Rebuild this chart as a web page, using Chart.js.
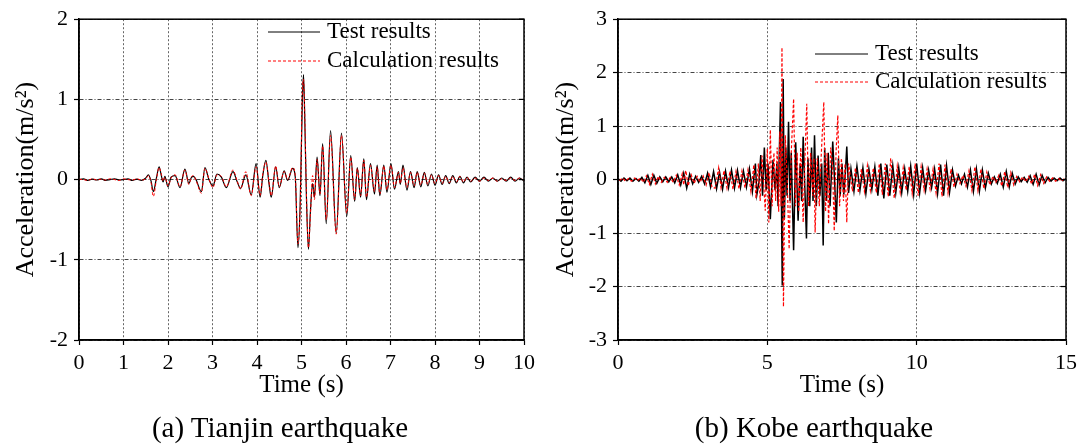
<!DOCTYPE html>
<html>
<head>
<meta charset="utf-8">
<script src="https://cdn.jsdelivr.net/npm/chart.js@4.4.1/dist/chart.umd.min.js"></script>
<style>
  body { margin: 0; background: #fff; width: 1082px; height: 446px; position: relative; overflow: hidden; }
  canvas { position: absolute; top: 0; }
  .cap { position: absolute; top: 412px; font-family: 'Liberation Serif', 'Times New Roman', serif; font-size: 29px; line-height: 30px; text-align: center; color: #000; }
</style>
</head>
<body>
<canvas id="tianjin" width="540" height="446" style="left:0"></canvas>
<canvas id="kobe" width="542" height="446" style="left:540px"></canvas>
<div class="cap" style="left:0;width:560px">(a) Tianjin earthquake</div>
<div class="cap" style="left:540px;width:548px">(b) Kobe earthquake</div>
<script>
// Tianjin record: time (s), test and calculated acceleration (m/s2)
const tianjinTime = [
  0, 0.1, 0.2, 0.3, 0.4, 0.5, 0.6, 0.7, 0.8, 0.9,
  1.0, 1.1, 1.2, 1.3, 1.4, 1.5, 1.56, 1.62, 1.67, 1.74,
  1.8, 1.85, 1.89, 1.93, 2.0, 2.07, 2.16, 2.27, 2.38, 2.47,
  2.52, 2.57, 2.63, 2.75, 2.83, 2.92, 3.01, 3.1, 3.2, 3.31,
  3.46, 3.55, 3.63, 3.75, 3.87, 3.98, 4.07, 4.13, 4.2, 4.27,
  4.32, 4.42, 4.5, 4.61, 4.69, 4.8, 4.86, 4.92, 4.97, 5.02,
  5.045, 5.07, 5.11, 5.156, 5.2, 5.25, 5.29, 5.35, 5.416, 5.475,
  5.556, 5.653, 5.78, 5.898, 6.017, 6.106, 6.195, 6.254, 6.328, 6.4,
  6.46, 6.55, 6.64, 6.7, 6.76, 6.85, 6.92, 7.01, 7.09, 7.18,
  7.22, 7.28, 7.37, 7.45, 7.53, 7.6, 7.68, 7.76, 7.84, 7.92,
  8.0, 8.08, 8.16, 8.24, 8.32, 8.4, 8.48, 8.56, 8.64, 8.72,
  8.8, 8.9, 9.0, 9.1, 9.2, 9.3, 9.4, 9.5, 9.6, 9.7,
  9.8, 9.9, 10.0
];
const tianjinTest = [
  0, 0.01, -0.01, 0.005, -0.005, 0.01, -0.01, 0, 0.01, -0.005,
  0, 0.01, -0.01, 0.005, -0.01, 0.02, 0.06, -0.02, -0.15, 0.02,
  0.16, 0.05, -0.03, 0.04, -0.09, 0.03, 0.05, -0.1, 0.13, -0.05,
  0.02, 0.04, 0, -0.15, 0.15, 0, -0.08, 0.07, 0.03, -0.1,
  0.1, -0.02, -0.11, 0.06, -0.19, 0.2, -0.22, 0.05, 0.24, -0.05,
  -0.22, 0.16, -0.1, 0.11, -0.01, 0.14, 0.03, -0.85, -0.3, 1.0,
  1.31, 0.85, -0.2, -0.87, -0.4, -0.05, -0.22, 0.28, -0.2, 0.45,
  -0.55, 0.61, -0.67, 0.58, -0.46, 0.3, -0.27, 0.15, -0.22, 0.26,
  -0.25, 0.2, -0.18, 0.18, -0.2, 0.18, -0.16, 0.2, -0.12, 0.1,
  -0.06, 0.18, -0.13, 0.1, -0.1, 0.1, -0.09, 0.09, -0.08, 0.07,
  -0.07, 0.06, -0.06, 0.05, -0.05, 0.05, -0.04, 0.04, -0.04, 0.03,
  -0.03, 0.03, -0.02, 0.03, -0.02, 0.02, -0.02, 0.02, -0.02, 0.03,
  -0.02, 0.02, -0.02
];
const tianjinCalc = [
  0.005, 0, -0.01, 0.01, -0.005, 0.005, -0.005, 0.01, 0, -0.01,
  0.01, 0, -0.005, 0.01, -0.005, 0.01, 0.05, -0.04, -0.21, 0,
  0.15, 0.07, -0.02, 0.03, -0.08, 0.02, 0.06, -0.09, 0.12, -0.06,
  0.03, 0.05, -0.01, -0.17, 0.14, 0.01, -0.1, 0.06, 0.04, -0.09,
  0.12, -0.01, -0.12, 0.1, -0.2, 0.16, -0.2, 0.07, 0.22, -0.03,
  -0.2, 0.17, -0.09, 0.1, 0, 0.15, 0.05, -0.8, -0.35, 1.1,
  1.25, 0.9, -0.15, -0.85, -0.45, 0.05, -0.25, 0.25, -0.18, 0.42,
  -0.5, 0.55, -0.68, 0.55, -0.42, 0.28, -0.25, 0.14, -0.2, 0.24,
  -0.22, 0.18, -0.15, 0.16, -0.18, 0.17, -0.13, 0.18, -0.1, 0.09,
  -0.05, 0.15, -0.1, 0.09, -0.08, 0.09, -0.07, 0.08, -0.06, 0.06,
  -0.05, 0.05, -0.05, 0.04, -0.04, 0.04, -0.03, 0.04, -0.03, 0.03,
  -0.02, 0.02, -0.02, 0.02, -0.01, 0.02, -0.02, 0.01, -0.01, 0.02,
  -0.01, 0.02, -0.01
];

// Kobe record: [time (s), acceleration (m/s2)]
const kobeTest = [
  [0, 0.02], [0.1, -0.03], [0.2, 0.03], [0.3, -0.02], [0.4, 0.03], [0.5, -0.03], [0.6, 0.02], [0.7, -0.03], [0.8, 0.04],
  [0.9, -0.06], [1.0, 0.08], [1.1, -0.09], [1.2, 0.08], [1.3, -0.07], [1.4, 0.05],
  [1.5, -0.04], [1.6, 0.05], [1.7, -0.04], [1.8, 0.05], [1.9, -0.06],
  [2.0, 0.09], [2.1, -0.1], [2.2, 0.12], [2.3, -0.16], [2.4, 0.1], [2.5, -0.08],
  [2.6, 0.06], [2.7, -0.05], [2.8, 0.06], [2.9, -0.08],
  [3.0, 0.12], [3.1, -0.14], [3.2, 0.15], [3.3, -0.17], [3.4, 0.14], [3.5, -0.18], [3.6, 0.16], [3.7, -0.15],
  [3.8, 0.18], [3.9, -0.16], [4.0, 0.17], [4.1, -0.15], [4.2, 0.16], [4.3, -0.14], [4.4, 0.2],
  [4.5, -0.22], [4.6, 0.3], [4.65, -0.28], [4.72, -0.05], [4.78, 0.46], [4.84, -0.3], [4.9, 0.6], [4.96, -0.2],
  [5.02, 0.3], [5.1, -0.74], [5.19, 0.37], [5.26, -0.2], [5.32, 0.3], [5.36, -0.5], [5.44, 1.45], [5.5, -1.98],
  [5.53, 1.88], [5.57, -0.74], [5.62, 0.6], [5.66, -0.3], [5.71, 1.08], [5.76, -0.4], [5.8, 0.5], [5.88, -1.32],
  [5.95, 0.7], [6.03, -0.77], [6.1, 0.3], [6.15, -0.4], [6.2, 0.8], [6.31, -1.1], [6.36, 0.4], [6.42, -0.5],
  [6.48, 0.6], [6.53, -0.4], [6.58, 0.83], [6.64, -0.5], [6.7, 0.45], [6.76, -0.3], [6.82, 0.3], [6.87, -1.23],
  [6.92, 0.59], [6.98, -0.4], [7.04, 0.5], [7.1, -0.5], [7.19, 0.71], [7.25, 0.0], [7.31, -0.8], [7.38, 0.4],
  [7.44, -0.3], [7.5, 0.3], [7.56, -0.28], [7.61, 0.1], [7.66, 0.62], [7.72, -0.25], [7.8, 0.2],
  [7.9, -0.22], [8.0, 0.25], [8.1, -0.2], [8.2, 0.22], [8.3, -0.26], [8.4, 0.2], [8.5, -0.18], [8.6, 0.24],
  [8.7, -0.3], [8.8, 0.3], [8.9, -0.35], [9.0, 0.28], [9.1, -0.3], [9.2, 0.26], [9.3, -0.25], [9.4, 0.22],
  [9.5, -0.24], [9.6, 0.2], [9.7, -0.22], [9.8, 0.25], [9.9, -0.28], [10.0, 0.3], [10.1, -0.25], [10.2, 0.22],
  [10.3, -0.2], [10.4, 0.18], [10.5, -0.15], [10.6, 0.2], [10.7, -0.26], [10.8, 0.28], [10.9, -0.3], [11.0, 0.26],
  [11.1, -0.24], [11.2, 0.18], [11.3, -0.12], [11.4, 0.08], [11.5, -0.08], [11.6, 0.1], [11.7, -0.14], [11.8, 0.18],
  [11.9, -0.22], [12.0, 0.2], [12.1, -0.22], [12.2, 0.18], [12.3, -0.16], [12.4, 0.12], [12.5, -0.08], [12.6, 0.05],
  [12.7, -0.07], [12.8, 0.1], [12.9, -0.14], [13.0, 0.15], [13.1, -0.14], [13.2, 0.12], [13.3, -0.08], [13.4, 0.05],
  [13.5, -0.04], [13.6, 0.04], [13.7, -0.05], [13.8, 0.07], [13.9, -0.09], [14.0, 0.1], [14.1, -0.1], [14.2, 0.08],
  [14.3, -0.06], [14.4, 0.04], [14.5, -0.03], [14.6, 0.03], [14.7, -0.02], [14.8, 0.03], [14.9, -0.02], [15.0, 0.02]
];
const kobeCalc = [
  [0.05, -0.02], [0.15, 0.03], [0.25, -0.03], [0.35, 0.02], [0.45, -0.03], [0.55, 0.03], [0.65, -0.02], [0.75, 0.03], [0.85, -0.05],
  [0.95, 0.07], [1.05, -0.09], [1.15, 0.1], [1.25, -0.08], [1.35, 0.06], [1.45, -0.05],
  [1.55, 0.04], [1.65, -0.05], [1.75, 0.04], [1.85, -0.05], [1.95, 0.08],
  [2.05, -0.1], [2.15, 0.11], [2.2, -0.1], [2.27, 0.17], [2.35, -0.12], [2.45, 0.09], [2.55, -0.07],
  [2.65, 0.06], [2.75, -0.05], [2.85, 0.07], [2.95, -0.1],
  [3.05, 0.13], [3.15, -0.15], [3.25, -0.16], [3.37, 0.22], [3.45, -0.15], [3.55, 0.17], [3.65, -0.16], [3.75, 0.16],
  [3.85, -0.18], [3.95, 0.15], [4.05, -0.17], [4.15, 0.16], [4.25, -0.15], [4.35, 0.18],
  [4.45, -0.22], [4.55, 0.28], [4.62, -0.35], [4.7, 0.3], [4.76, -0.4], [4.82, 0.45], [4.93, -0.58], [5.0, 0.58],
  [5.05, -0.8], [5.1, 0.93], [5.16, -0.5], [5.22, 0.5], [5.28, -0.4], [5.33, 0.6], [5.38, -0.6], [5.42, 0.9],
  [5.46, -0.5], [5.49, 2.47], [5.54, -2.38], [5.6, 0.83], [5.66, 0.1], [5.73, -1.3], [5.8, 0.5], [5.88, 1.51],
  [5.94, -0.5], [6.0, 0.5], [6.05, -0.6], [6.12, 0.6], [6.2, -0.8], [6.26, 0.4], [6.32, 1.42], [6.38, -0.5],
  [6.45, 0.5], [6.52, -0.3], [6.56, 0.4], [6.6, -0.99], [6.67, 0.4], [6.74, -0.5], [6.8, 0.4], [6.89, 1.45],
  [6.95, -0.6], [7.0, 0.5], [7.05, -0.83], [7.12, 0.6], [7.18, 0.3], [7.24, -0.96], [7.3, 0.5], [7.36, 1.2],
  [7.42, -0.5], [7.48, 0.4], [7.55, -0.4], [7.6, 0.3], [7.66, -0.8], [7.72, 0.3],
  [7.85, -0.22], [7.95, 0.22], [8.05, -0.25], [8.15, 0.2], [8.25, -0.22], [8.35, 0.26], [8.45, -0.2], [8.55, 0.22],
  [8.65, -0.25], [8.75, 0.3], [8.85, -0.28], [8.95, 0.3], [9.05, -0.32], [9.13, 0.4], [9.25, -0.35], [9.35, 0.25],
  [9.45, -0.24], [9.55, 0.22], [9.65, -0.2], [9.75, 0.24], [9.85, -0.26], [9.95, 0.3], [10.05, -0.3], [10.15, 0.24],
  [10.25, -0.2], [10.35, 0.2], [10.45, -0.18], [10.55, 0.2], [10.65, -0.25], [10.75, 0.3], [10.85, -0.32], [10.95, 0.28],
  [11.05, -0.25], [11.15, 0.2], [11.25, -0.14], [11.35, 0.1], [11.45, -0.07], [11.55, 0.08], [11.65, -0.12], [11.75, 0.16],
  [11.85, -0.2], [11.95, 0.24], [12.05, -0.2], [12.15, 0.2], [12.25, -0.17], [12.35, 0.14], [12.45, -0.1], [12.55, 0.06],
  [12.65, -0.05], [12.75, 0.08], [12.85, -0.12], [12.95, 0.15], [13.05, -0.15], [13.15, 0.13], [13.25, -0.1], [13.35, 0.06],
  [13.45, -0.04], [13.55, 0.05], [13.65, -0.04], [13.75, 0.06], [13.85, -0.08], [13.95, 0.1], [14.05, -0.11], [14.15, 0.09],
  [14.25, -0.07], [14.35, 0.05], [14.45, -0.03], [14.55, 0.03], [14.65, -0.03], [14.75, 0.02], [14.85, -0.03], [14.95, 0.02]
];

const SERIES_LABELS = ["Test results", "Calculation results"];
const FONT = "'Liberation Serif', 'Times New Roman', serif";

Chart.defaults.font.family = FONT;
Chart.defaults.color = "#000";

// Box round the plot area plus the little inward ticks on the right side
const framePlugin = {
  id: "frame",
  afterDatasetsDraw(chart) {
    const { ctx, chartArea: a, scales } = chart;
    ctx.save();
    ctx.strokeStyle = "#000";
    ctx.lineWidth = 1.5;
    ctx.setLineDash([]);
    ctx.strokeRect(a.left, a.top, a.right - a.left, a.bottom - a.top);
    ctx.lineWidth = 1.2;
    scales.y.ticks.forEach(t => {
      const y = scales.y.getPixelForValue(t.value);
      ctx.beginPath();
      ctx.moveTo(a.right, y);
      ctx.lineTo(a.right - 5, y);
      ctx.stroke();
    });
    ctx.restore();
  }
};

// Legend drawn inside the plot area, no background
const insideLegend = {
  id: "insideLegend",
  afterDraw(chart, args, opts) {
    const ctx = chart.ctx;
    ctx.save();
    chart.data.datasets.forEach((ds, i) => {
      const y = opts.y + i * opts.gap;
      ctx.strokeStyle = ds.borderColor;
      ctx.lineWidth = 1;
      ctx.setLineDash(ds.borderDash || []);
      ctx.beginPath();
      ctx.moveTo(opts.x, y);
      ctx.lineTo(opts.x + opts.len, y);
      ctx.stroke();
      ctx.setLineDash([]);
      ctx.fillStyle = "#000";
      ctx.font = "23px " + FONT;
      ctx.textBaseline = "middle";
      ctx.fillText(ds.label, opts.x + opts.len + 7, y);
    });
    ctx.restore();
  }
};

function makeChart(id, testPts, calcPts, cfg) {
  return new Chart(document.getElementById(id), {
    type: "line",
    data: {
      datasets: [
        {
          label: SERIES_LABELS[0],
          data: testPts,
          borderColor: "#000",
          borderWidth: cfg.testWidth,
          pointRadius: 0,
          cubicInterpolationMode: cfg.smooth ? "monotone" : "default",
          tension: 0,
          order: 1
        },
        {
          label: SERIES_LABELS[1],
          data: calcPts,
          borderColor: "#ff0000",
          borderWidth: cfg.calcWidth,
          borderDash: [3, 2],
          pointRadius: 0,
          cubicInterpolationMode: cfg.smooth ? "monotone" : "default",
          tension: 0,
          order: 0
        }
      ]
    },
    options: {
      responsive: false,
      animation: false,
      devicePixelRatio: 1,
      layout: { padding: { left: 0, right: cfg.rightPad, top: 16, bottom: 46 } },
      scales: {
        x: {
          type: "linear",
          min: 0,
          max: cfg.xMax,
          afterFit: s => { s.height = 60; },
          ticks: { stepSize: cfg.xStep, maxRotation: 0, autoSkip: false, padding: 5, font: { size: 22 } },
          grid: {
            color: "#666",
            lineWidth: 1,
            drawTicks: true,
            tickLength: 5,
            tickColor: "#000",
            tickWidth: 1.2,
            tickBorderDash: []
          },
          border: { display: true, color: "#000", width: 1.5, dash: [2, 2] },
          title: { display: true, text: "Time (s)", font: { size: 25 }, padding: { top: 0, bottom: 0 } }
        },
        y: {
          min: -cfg.yMax,
          max: cfg.yMax,
          afterFit: s => { s.width = cfg.yWidth; },
          ticks: { stepSize: 1, padding: 6, font: { size: 22 } },
          grid: {
            color: "#444",
            lineWidth: 1,
            drawTicks: true,
            tickLength: 5,
            tickColor: "#000",
            tickWidth: 1.2,
            tickBorderDash: []
          },
          border: { display: true, color: "#000", width: 1.5, dash: [4, 2, 1, 2] },
          title: { display: true, text: "Acceleration(m/s²)", font: { size: 26 }, padding: { top: 11, bottom: 0 } }
        }
      },
      plugins: {
        legend: { display: false },
        tooltip: { enabled: false },
        insideLegend: cfg.legend
      }
    },
    plugins: [framePlugin, insideLegend]
  });
}

makeChart(
  "tianjin",
  tianjinTime.map((t, i) => ({ x: t, y: tianjinTest[i] })),
  tianjinTime.map((t, i) => ({ x: t, y: tianjinCalc[i] })),
  { xMax: 10, xStep: 1, yMax: 2, yWidth: 79, rightPad: 12, testWidth: 1.2, calcWidth: 1, smooth: true,
    legend: { x: 268, y: 32, gap: 29, len: 52 } }
);

makeChart(
  "kobe",
  kobeTest.map(([x, y]) => ({ x, y })),
  kobeCalc.map(([x, y]) => ({ x, y })),
  { xMax: 15, xStep: 5, yMax: 3, yWidth: 78, rightPad: 16, testWidth: 1.5, calcWidth: 1.2, smooth: false,
    legend: { x: 275, y: 54, gap: 28, len: 53 } }
);
</script>
</body>
</html>
